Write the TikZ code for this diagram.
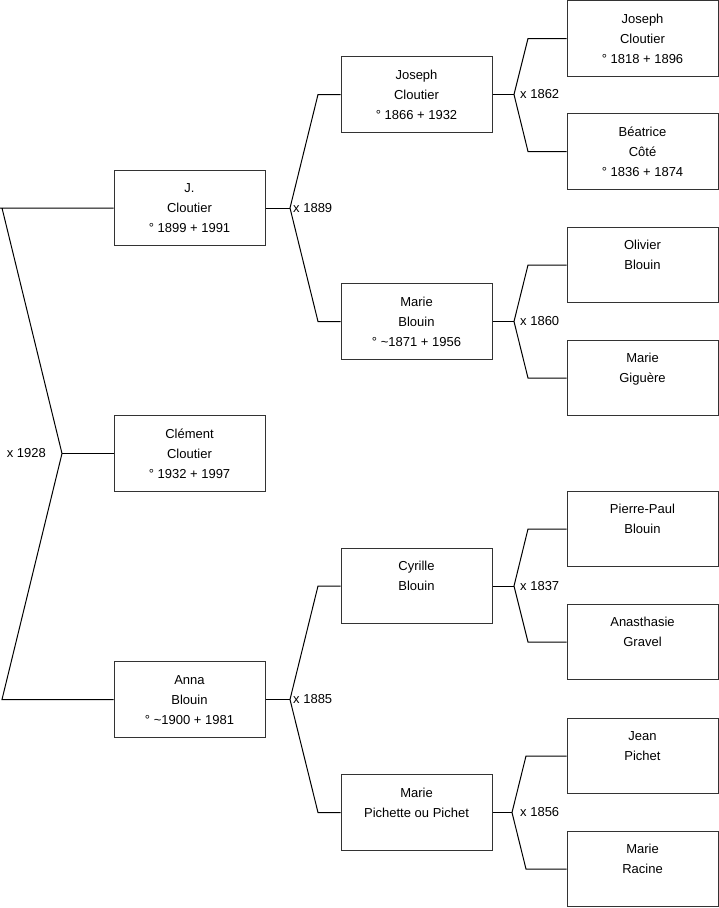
\documentclass[tikz,border=0pt]{standalone}
\usepackage{fontspec}
\setmainfont{Liberation Sans}
\begin{document}
\begin{tikzpicture}[x=1pt,y=-1pt,
  person/.style={draw=black!80,line width=1pt,minimum width=151pt,minimum height=75.5pt,inner sep=0pt,fill=white},
  txt/.style={anchor=north,inner sep=0pt,align=center,font=\fontsize{13}{20}\selectfont},
  mar/.style={inner sep=0pt,font=\fontsize{13}{16}\selectfont},
  conn/.style={line width=1pt,black}]
\useasboundingbox (0,0) rectangle (719,908);
% generation 1
\node[person] (jc) at (189.5,208) {};
\node[person] (cc) at (189.5,453.5) {};
\node[person] (ab) at (189.5,699.5) {};
% generation 2
\node[person] (jo2) at (416.5,94.5) {};
\node[person] (mb) at (416.5,321.5) {};
\node[person] (cy) at (416.5,586) {};
\node[person] (mp) at (416.5,812.5) {};
% generation 3
\node[person] (jo3) at (642.5,38.5) {};
\node[person] (bc) at (642.5,151.5) {};
\node[person] (ob) at (642.5,265) {};
\node[person] (mg) at (642.5,378) {};
\node[person] (pp) at (642.5,529) {};
\node[person] (ag) at (642.5,642) {};
\node[person] (jp) at (642.5,756) {};
\node[person] (mr) at (642.5,869) {};
% texts
\node[txt] (t-jc) at ([yshift=-9pt]jc.north) {\strut J.\\Cloutier\\° 1899 + 1991};
\node[txt] (t-cc) at ([yshift=-9pt]cc.north) {\strut Clément\\Cloutier\\° 1932 + 1997};
\node[txt] (t-ab) at ([yshift=-9pt]ab.north) {\strut Anna\\Blouin\\° \textasciitilde1900 + 1981};
\node[txt] (t-jo2) at ([yshift=-9pt]jo2.north) {\strut Joseph\\Cloutier\\° 1866 + 1932};
\node[txt] (t-mb) at ([yshift=-9pt]mb.north) {\strut Marie\\Blouin\\° \textasciitilde1871 + 1956};
\node[txt] (t-cy) at ([yshift=-9pt]cy.north) {\strut Cyrille\\Blouin};
\node[txt] (t-mp) at ([yshift=-9pt]mp.north) {\strut Marie\\Pichette ou Pichet};
\node[txt] (t-jo3) at ([yshift=-9pt]jo3.north) {\strut Joseph\\Cloutier\\° 1818 + 1896};
\node[txt] (t-bc) at ([yshift=-9pt]bc.north) {\strut Béatrice\\Côté\\° 1836 + 1874};
\node[txt] (t-ob) at ([yshift=-9pt]ob.north) {\strut Olivier\\Blouin};
\node[txt] (t-mg) at ([yshift=-9pt]mg.north) {\strut Marie\\Giguère};
\node[txt] (t-pp) at ([yshift=-9pt]pp.north) {\strut Pierre-Paul\\Blouin};
\node[txt] (t-ag) at ([yshift=-9pt]ag.north) {\strut Anasthasie\\Gravel};
\node[txt] (t-jp) at ([yshift=-9pt]jp.north) {\strut Jean\\Pichet};
\node[txt] (t-mr) at ([yshift=-9pt]mr.north) {\strut Marie\\Racine};
% fork coordinates
\coordinate (m1) at (62,453.5);
\coordinate (m1a) at (2,208);
\coordinate (m1b) at (2,699.5);
\coordinate (m2) at (290,208);
\coordinate (m2a) at (318,94.5);
\coordinate (m2b) at (318,321.5);
\coordinate (m3) at (290,699.5);
\coordinate (m3a) at (318,586);
\coordinate (m3b) at (318,812.5);
\coordinate (m4) at (514,94.5);
\coordinate (m4a) at (528,38.5);
\coordinate (m4b) at (528,151.5);
\coordinate (m5) at (514,321.5);
\coordinate (m5a) at (528,265);
\coordinate (m5b) at (528,378);
\coordinate (m6) at (514,586);
\coordinate (m6a) at (528,529);
\coordinate (m6b) at (528,642);
\coordinate (m7) at (512,812.5);
\coordinate (m7a) at (526,756);
\coordinate (m7b) at (526,869);
% connectors
\draw[conn] (jc.west) -- (0,208) (m1a) -- (m1) -- (m1b) -- (ab.west);
\draw[conn] (m1) -- (cc.west);
\draw[conn] (jc.east) -- (m2);
\draw[conn] (jo2.west) -- (m2a) -- (m2) -- (m2b) -- (mb.west);
\draw[conn] (ab.east) -- (m3);
\draw[conn] (cy.west) -- (m3a) -- (m3) -- (m3b) -- (mp.west);
\draw[conn] (jo2.east) -- (m4);
\draw[conn] (jo3.west) -- (m4a) -- (m4) -- (m4b) -- (bc.west);
\draw[conn] (mb.east) -- (m5);
\draw[conn] (ob.west) -- (m5a) -- (m5) -- (m5b) -- (mg.west);
\draw[conn] (cy.east) -- (m6);
\draw[conn] (pp.west) -- (m6a) -- (m6) -- (m6b) -- (ag.west);
\draw[conn] (mp.east) -- (m7);
\draw[conn] (jp.west) -- (m7a) -- (m7) -- (m7b) -- (mr.west);
% marriage labels
\node[mar,anchor=east] (x1) at (46,453.5) {x 1928};
\node[mar,anchor=west] (x2) at (293,208) {x 1889};
\node[mar,anchor=west] (x3) at (293,699.5) {x 1885};
\node[mar,anchor=west] (x4) at (520,94.5) {x 1862};
\node[mar,anchor=west] (x5) at (520,321.5) {x 1860};
\node[mar,anchor=west] (x6) at (520,586) {x 1837};
\node[mar,anchor=west] (x7) at (520,812.5) {x 1856};
\end{tikzpicture}
\end{document}
